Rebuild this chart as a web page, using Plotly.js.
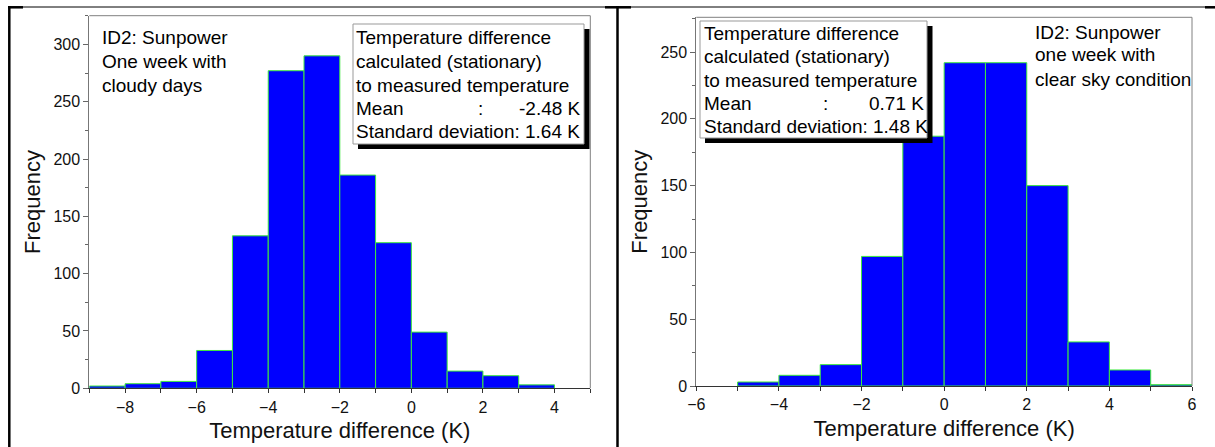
<!DOCTYPE html>
<html>
<head>
<meta charset="utf-8">
<script src="https://cdn.plot.ly/plotly-3.0.1.min.js"></script>
<style>
html, body { margin: 0; padding: 0; background: #ffffff; }
#chart { width: 1215px; height: 447px; }
</style>
</head>
<body>
<div id="chart"></div>
<script>
// ---------- data ----------
const leftBinStart  = [-9, -8, -7, -6, -5, -4, -3, -2, -1, 0, 1, 2, 3];
const leftCounts    = [2, 4, 6, 33, 133, 277, 290, 186, 127, 49, 15, 11, 3];
const rightBinStart = [-5, -4, -3, -2, -1, 0, 1, 2, 3, 4, 5];
const rightCounts   = [3, 8, 16, 97, 187, 242, 242, 150, 33, 12, 1];

const xTitle = "Temperature difference (K)";
const yTitle = "Frequency";
const leftNote  = ["ID2: Sunpower", "One week with", "cloudy days"];
const rightNote = ["ID2: Sunpower", "one week with", "clear sky condition"];
const boxLines  = ["Temperature difference", "calculated (stationary)", "to measured temperature"];
const meanLabel = "Mean";
const leftMean  = "-2.48 K";
const rightMean = "0.71 K";
const leftStd   = "Standard deviation: 1.64 K";
const rightStd  = "Standard deviation: 1.48 K";

// ---------- layout helpers ----------
const W = 1215, H = 447;
const PX = p => p / W;
const PY = p => 1 - p / H;
const FONT = "Liberation Sans, Arial, Helvetica, sans-serif";

const barStyle = {
  type: "bar",
  width: 1,
  offset: 0,
  marker: { color: "#0000ff", line: { color: "#3ee83e", width: 1 } },
  hoverinfo: "x+y",
  showlegend: false
};

const traces = [
  Object.assign({}, barStyle, { x: leftBinStart, y: leftCounts, xaxis: "x", yaxis: "y" }),
  Object.assign({}, barStyle, { x: rightBinStart, y: rightCounts, xaxis: "x2", yaxis: "y2" })
];

function xAx(domain, range, anchor) {
  return {
    domain: domain, range: range, anchor: anchor,
    tickmode: "linear", tick0: 0, dtick: 2,
    ticks: "outside", ticklen: 4, tickwidth: 1, tickcolor: "#333",
    minor: { dtick: 1, tick0: 0, ticks: "outside", ticklen: 4, tickcolor: "#333" },
    showline: true, linecolor: "#333", linewidth: 1,
    showgrid: false, zeroline: false,
    tickfont: { family: FONT, size: 16, color: "#111" },
    title: { text: xTitle, font: { family: FONT, size: 22, color: "#111" }, standoff: 8 },
    fixedrange: true
  };
}
function yAx(domain, range, anchor) {
  return {
    domain: domain, range: range, anchor: anchor,
    tickmode: "linear", tick0: 0, dtick: 50,
    ticks: "outside", ticklen: 5, tickwidth: 1, tickcolor: "#666",
    minor: { dtick: 25, tick0: 0, ticks: "outside", ticklen: 3, tickcolor: "#666" },
    showline: true, linecolor: "#777", linewidth: 1,
    showgrid: false, zeroline: false,
    tickfont: { family: FONT, size: 16, color: "#111" },
    title: { text: yTitle, font: { family: FONT, size: 22, color: "#111" }, standoff: 6 },
    fixedrange: true
  };
}

const shapes = [];
const annotations = [];

// plot frames (top/right)
[["x", "y"], ["x2", "y2"]].forEach(([xa, ya]) => {
  shapes.push({ type: "line", xref: xa + " domain", yref: ya + " domain", x0: 0, x1: 1, y0: 1, y1: 1, line: { color: "#808080", width: 1 } });
  shapes.push({ type: "line", xref: xa + " domain", yref: ya + " domain", x0: 1, x1: 1, y0: 0, y1: 1, line: { color: "#808080", width: 1 } });
});

// page borders
function pline(x0, y0, x1, y1, w) {
  shapes.push({ type: "line", xref: "paper", yref: "paper", x0: PX(x0), x1: PX(x1), y0: PY(y0), y1: PY(y1), line: { color: "#000", width: w } });
}
pline(8, 7, 1215, 7, 1);
pline(8, 7.3, 23, 7.3, 2.5);
pline(605, 7.3, 631, 7.3, 2.5);
pline(1205, 7.3, 1215, 7.3, 2.5);
pline(9.3, 6, 9.3, 447, 2.5);
pline(617.5, 6, 617.5, 447, 2.5);

// stats boxes with shadow
function statBox(bx0, by0, bx1, by1, off, textX, colonX, rightX, lineYs, meanVal, stdText) {
  shapes.push({ type: "rect", xref: "paper", yref: "paper", layer: "above",
    x0: PX(bx0 + off), x1: PX(bx1 + off + 0.5), y0: PY(by0 + off), y1: PY(by1 + off),
    fillcolor: "#000", line: { width: 0 } });
  shapes.push({ type: "rect", xref: "paper", yref: "paper", layer: "above",
    x0: PX(bx0), x1: PX(bx1), y0: PY(by0), y1: PY(by1),
    fillcolor: "#fff", line: { color: "#999", width: 1 } });
  const t = (txt, x, y, xa) => annotations.push({
    xref: "paper", yref: "paper", x: PX(x), y: PY(y), xanchor: xa, yanchor: "middle",
    text: txt, showarrow: false, font: { family: FONT, size: 19, color: "#000" }
  });
  boxLines.forEach((s, i) => t(s, textX, lineYs[i], "left"));
  t(meanLabel, textX, lineYs[3], "left");
  t(":", colonX, lineYs[3], "center");
  t(meanVal, rightX, lineYs[3], "right");
  t(stdText, textX, lineYs[4], "left");
}
statBox(353, 24, 584, 144, 5, 354, 480, 583, [37.7, 61, 85, 108.3, 131.7], leftMean, leftStd);
statBox(700, 21, 927, 138, 5, 702, 825, 926, [33.3, 56.7, 80, 103.3, 126.7], rightMean, rightStd);

// notes
function note(lines, x, ys) {
  lines.forEach((s, i) => annotations.push({
    xref: "paper", yref: "paper", x: PX(x), y: PY(ys[i]), xanchor: "left", yanchor: "middle",
    text: s, showarrow: false, font: { family: FONT, size: 19, color: "#000" }
  }));
}
note(leftNote, 100, [37.7, 61, 85]);
note(rightNote, 1033, [32.3, 55, 79]);

const layout = {
  width: W, height: H,
  margin: { l: 0, r: 0, t: 0, b: 0, pad: 0 },
  paper_bgcolor: "#fff", plot_bgcolor: "#fff",
  bargap: 0,
  showlegend: false,
  font: { family: FONT },
  xaxis:  xAx([PX(89.3), PX(590.3)], [-9, 5], "y"),
  yaxis:  yAx([1 - 388.3 / H, 1 - 15.7 / H], [0, 325], "x"),
  xaxis2: xAx([PX(696.3), PX(1192)], [-6, 6], "y2"),
  yaxis2: yAx([1 - 386 / H, 1 - 17.3 / H], [0, 276], "x2"),
  shapes: shapes,
  annotations: annotations
};

Plotly.newPlot("chart", traces, layout, { displayModeBar: false, staticPlot: true });
</script>
</body>
</html>
